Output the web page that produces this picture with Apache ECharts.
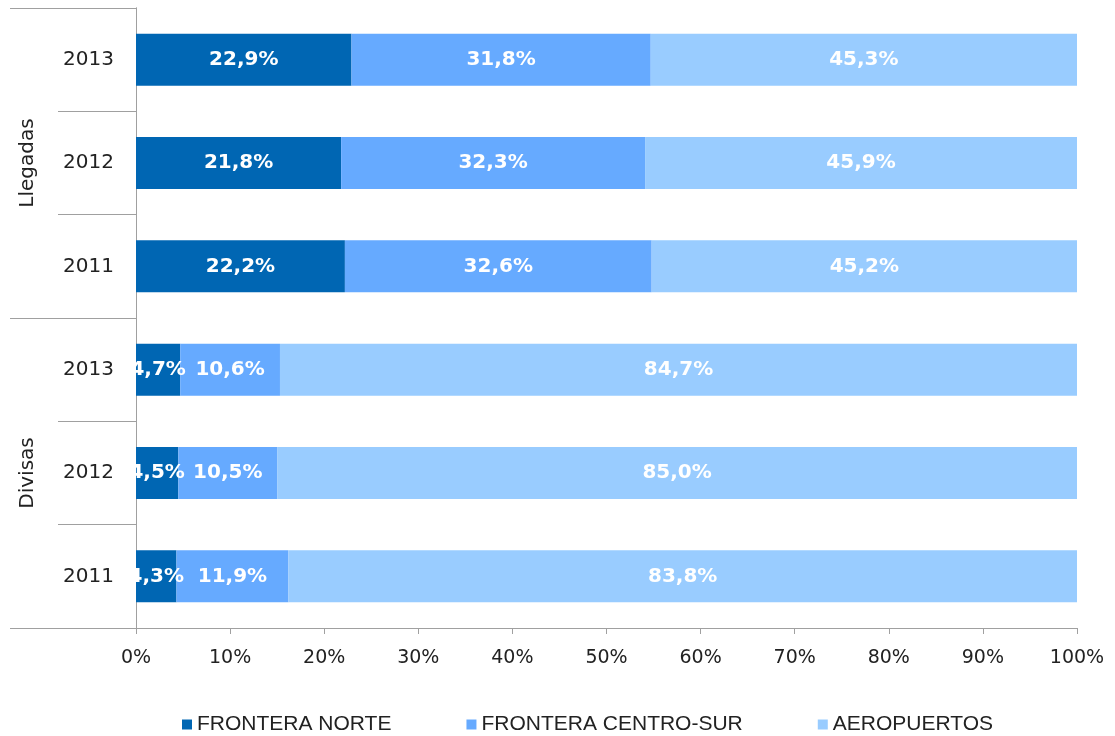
<!DOCTYPE html>
<html>
<head>
<meta charset="utf-8">
<script src="https://cdn.jsdelivr.net/npm/echarts@6/dist/echarts.min.js"></script>
<style>
  html, body { margin: 0; padding: 0; background: #fff; }
  #chart { width: 1115px; height: 736px; }
</style>
</head>
<body>
<div id="chart"></div>
<script>
// categories from bottom to top
const categoryKeys = ["D2011", "D2012", "D2013", "L2011", "L2012", "L2013"];
const yearLabels = ["2011", "2012", "2013", "2011", "2012", "2013"];
const groupLabels = ["Divisas", "Llegadas"];
const seriesNames = ["FRONTERA NORTE", "FRONTERA CENTRO-SUR", "AEROPUERTOS"];

const norte = [4.3, 4.5, 4.7, 22.2, 21.8, 22.9];
const centroSur = [11.9, 10.5, 10.6, 32.6, 32.3, 31.8];
const aeropuertos = [83.8, 85.0, 84.7, 45.2, 45.9, 45.3];

const colors = ["#0066B3", "#66AAFF", "#99CCFF"];

const axisGray = "#A0A0A0";
const textColor = "#222";

let myChart = echarts.init(document.getElementById("chart"));

function pct(v) {
  return v.toFixed(1).replace(".", ",") + "%";
}

function barSeries(name, data, color) {
  return {
    name: name,
    type: "bar",
    stack: "total",
    barWidth: 52,
    itemStyle: { color: color },
    label: {
      show: true,
      position: "inside",
      color: "#fff",
      fontFamily: "DejaVu Sans",
      fontWeight: "bold",
      fontSize: 20,
      formatter: function (p) { return pct(p.value); }
    },
    data: data
  };
}

myChart.setOption({
  animation: false,
  color: colors,
  grid: {
    left: 136,
    right: 38,
    top: 8,
    bottom: 108
  },
  legend: {
    data: seriesNames,
    left: 182,
    top: 714,
    padding: 0,
    icon: "rect",
    itemWidth: 10,
    itemHeight: 10,
    itemGap: 75,
    textStyle: {
      fontFamily: "Liberation Sans",
      fontSize: 21,
      color: textColor
    }
  },
  xAxis: {
    type: "value",
    min: 0,
    max: 100,
    interval: 10,
    axisLine: { show: true, lineStyle: { color: axisGray } },
    axisTick: { show: true, length: 6, lineStyle: { color: axisGray } },
    splitLine: { show: false },
    axisLabel: {
      formatter: "{value}%",
      margin: 21,
      fontFamily: "DejaVu Sans",
      fontSize: 19,
      color: textColor
    }
  },
  yAxis: [
    {
      type: "category",
      data: categoryKeys,
      axisLine: { show: true, lineStyle: { color: axisGray } },
      axisTick: { show: true, length: 78, lineStyle: { color: axisGray } },
      axisLabel: {
        margin: 22,
        fontFamily: "DejaVu Sans",
        fontSize: 20,
        color: textColor,
        formatter: function (v, i) { return yearLabels[i]; }
      }
    },
    {
      type: "category",
      position: "left",
      data: groupLabels,
      axisLine: { show: true, lineStyle: { color: axisGray } },
      axisTick: { show: true, length: 126, lineStyle: { color: axisGray } },
      axisLabel: {
        rotate: 90,
        margin: 98,
        fontFamily: "DejaVu Sans",
        fontSize: 20,
        color: textColor
      }
    }
  ],
  series: [
    barSeries(seriesNames[0], norte, colors[0]),
    barSeries(seriesNames[1], centroSur, colors[1]),
    barSeries(seriesNames[2], aeropuertos, colors[2])
  ]
});
</script>
</body>
</html>
